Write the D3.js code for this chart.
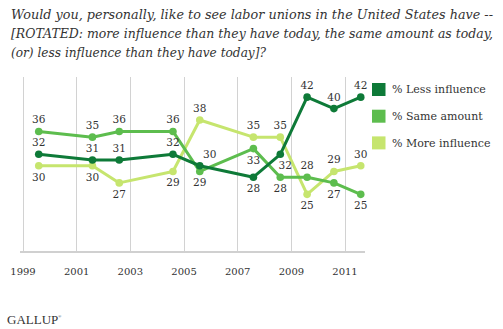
<!DOCTYPE html>
<html>
<head>
<meta charset="utf-8">
<script src="https://cdn.jsdelivr.net/npm/d3@7"></script>
<style>
  body { margin: 0; background: #fff; }
  svg { display: block; }
  text { font-family: "DejaVu Serif", Georgia, serif; fill: #333; }
</style>
</head>
<body>
<div id="chart"></div>
<script>
// survey dates (Gallup, August of each year)
const surveyDates = ["1999-08-10", "2001-08-10", "2002-08-10", "2004-08-10", "2005-08-10",
                     "2007-08-10", "2008-08-10", "2009-08-10", "2010-08-10", "2011-08-10"];
const lessInfluence = [32, 31, 31, 32, 30, 28, 32, 42, 40, 42];
const sameAmount    = [36, 35, 36, 36, 29, 33, 28, 28, 27, 25];
const moreInfluence = [30, 30, 27, 29, 38, 35, 35, 25, 29, 30];
const seriesNames = ["% Less influence", "% Same amount", "% More influence"];
const tickYears = [1999, 2001, 2003, 2005, 2007, 2009, 2011];
const titleLines = [
  "Would you, personally, like to see labor unions in the United States have --",
  "[ROTATED: more influence than they have today, the same amount as today,",
  "(or) less influence than they have today]?"
];
const titleWidths = [482, 482, 255];

// label placement per point (a = above, b = below, r = shifted right)
const labelSide = [
  ["a", "a", "a", "a", "ar", "b", "br", "a", "a", "a"],
  ["a", "a", "a", "a", "b", "b", "b", "a", "b", "b"],
  ["b", "b", "b", "b", "a", "a", "a", "b", "a", "a"]
];
const colors = ["#0e7a38", "#5dbd4e", "#c6e56e"];

const width = 503, height = 329;
const parse = d3.timeParse("%Y-%m-%d");
const dates = surveyDates.map(parse);
const series = [lessInfluence, sameAmount, moreInfluence].map((vals, i) => ({
  name: seriesNames[i],
  color: colors[i],
  points: vals.map((v, j) => ({ date: dates[j], value: v, side: labelSide[i][j] }))
}));

const svg = d3.select("#chart").append("svg")
  .attr("width", width)
  .attr("height", height);

// title
const title = svg.append("g");
titleLines.forEach((line, i) => {
  title.append("text")
    .attr("x", 11)
    .attr("y", 18.5 + i * 19)
    .style("font-style", "italic")
    .style("font-size", "12.2px")
    .attr("textLength", titleWidths[i])
    .attr("lengthAdjust", "spacingAndGlyphs")
    .text(line);
});

const xScale = d3.scaleTime()
  .domain([new Date(1999, 0, 1), new Date(2011, 0, 1)])
  .range([22.5, 344.5]);

const yScale = d3.scaleLinear()
  .domain([15, 45])
  .range([251.5, 80]);

// vertical gridlines
svg.append("g")
  .selectAll("line")
  .data(tickYears)
  .join("line")
  .attr("x1", d => Math.round(xScale(new Date(d, 0, 1))) + 0.5)
  .attr("x2", d => Math.round(xScale(new Date(d, 0, 1))) + 0.5)
  .attr("y1", 77)
  .attr("y2", 251)
  .attr("stroke", "#d2d2d2")
  .attr("stroke-width", 1);

// x axis
const xAxis = d3.axisBottom(xScale)
  .tickValues(tickYears.map(y => new Date(y, 0, 1)))
  .tickFormat(d3.timeFormat("%Y"))
  .tickSize(0)
  .tickPadding(16);

const axisG = svg.append("g")
  .attr("transform", `translate(0, ${yScale(15)})`)
  .call(xAxis);
axisG.select(".domain").remove();
axisG.selectAll("text")
  .style("font-size", "10px")
  .attr("fill", "#333");

svg.append("line")
  .attr("x1", 20).attr("x2", 365)
  .attr("y1", 252).attr("y2", 252)
  .attr("stroke", "#d0d0d0")
  .attr("stroke-width", 2);

const line = d3.line()
  .x(d => xScale(d.date))
  .y(d => yScale(d.value));

const seriesG = svg.append("g")
  .selectAll("g")
  .data(series.slice().reverse())
  .join("g");

seriesG.append("path")
  .attr("d", d => line(d.points))
  .attr("fill", "none")
  .attr("stroke", d => d.color)
  .attr("stroke-width", 3)
  .attr("stroke-linejoin", "round");

seriesG.selectAll("circle")
  .data(d => d.points.map(p => ({ ...p, color: d.color })))
  .join("circle")
  .attr("cx", d => xScale(d.date))
  .attr("cy", d => yScale(d.value))
  .attr("r", 3.8)
  .attr("fill", d => d.color);

// value labels
svg.append("g")
  .selectAll("text")
  .data(series.flatMap(s => s.points))
  .join("text")
  .attr("x", d => xScale(d.date) + (d.side.includes("r") ? (d.side[0] === "a" ? 10 : 5) : 0))
  .attr("y", d => yScale(d.value) + (d.side[0] === "a" ? -8 : 15))
  .attr("text-anchor", "middle")
  .style("font-size", "10.5px")
  .text(d => d.value);

// legend
const legend = svg.append("g")
  .selectAll("g")
  .data(series)
  .join("g")
  .attr("transform", (d, i) => `translate(372, ${83 + i * 26.7})`);

legend.append("rect")
  .attr("width", 13.5)
  .attr("height", 13)
  .attr("fill", d => d.color);

legend.append("text")
  .attr("x", 20)
  .attr("y", 10.3)
  .style("font-size", "11px")
  .text(d => d.name);

// logo
const logo = svg.append("text")
  .attr("x", 7)
  .attr("y", 324)
  .style("font-family", "'Liberation Serif', serif")
  .style("font-size", "13px")
  .attr("fill", "#8a8a8a")
  .text("GALLUP");
logo.append("tspan")
  .attr("dy", -6)
  .style("font-size", "4px")
  .text("®");
</script>
</body>
</html>
